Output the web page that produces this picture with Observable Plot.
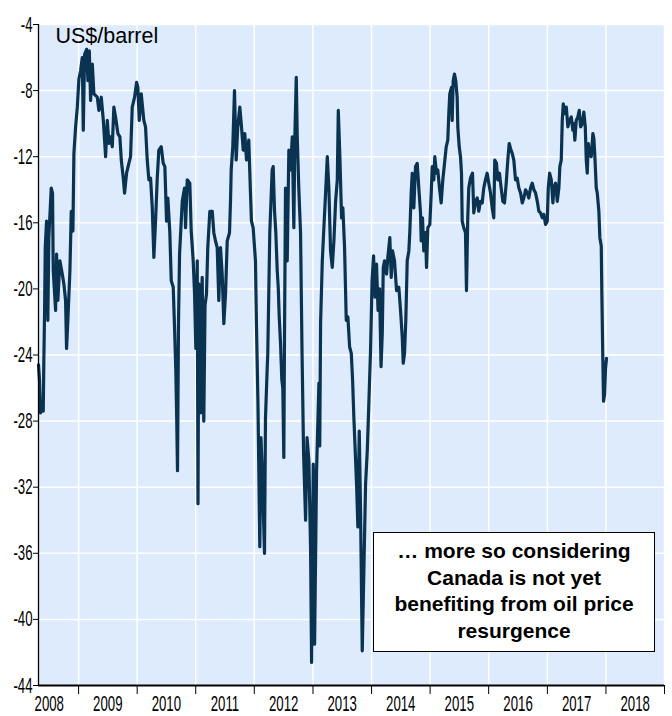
<!DOCTYPE html>
<html>
<head>
<meta charset="utf-8">
<script src="https://cdn.jsdelivr.net/npm/d3@7"></script>
<script src="https://cdn.jsdelivr.net/npm/@observablehq/plot@0.6"></script>
<style>
  body { margin: 0; background: #fff; }
  #wrap { position: relative; width: 672px; height: 716px; }
  #note {
    position: absolute; left: 373px; top: 532px; width: 282px; height: 120px;
    box-sizing: border-box; border: 1.5px solid #000; background: #fff;
    font: bold 21px "Liberation Sans", Arial, sans-serif; color: #000;
    text-align: center; line-height: 26.7px; padding-top: 5px;
  }
</style>
</head>
<body>
<div id="wrap"></div>
<script>
// [decimal year, US$/barrel]
const y2008 = [[2008.317,-24.6],[2008.334,-25.5],[2008.352,-27.5],[2008.377,-27.0],[2008.398,-27.4],[2008.408,-24.3],[2008.420,-21.5],[2008.432,-17.5],[2008.454,-15.9],[2008.476,-21.9],[2008.493,-16.9],[2008.534,-13.9],[2008.556,-14.2],[2008.568,-18.9],[2008.608,-21.3],[2008.625,-17.9],[2008.647,-20.7],[2008.681,-18.3],[2008.722,-19.1],[2008.749,-19.7],[2008.778,-20.7],[2008.795,-23.6],[2008.817,-21.9],[2008.852,-18.9],[2008.875,-15.3],[2008.903,-16.5],[2008.920,-11.8],[2008.949,-10.2],[2008.978,-9.0]];
const y2009 = [[2009.005,-7.3],[2009.034,-6.8],[2009.063,-6.0],[2009.080,-10.4],[2009.102,-5.8],[2009.137,-5.5],[2009.159,-7.4],[2009.183,-5.6],[2009.205,-8.6],[2009.234,-6.4],[2009.261,-8.2],[2009.319,-8.4],[2009.346,-9.2],[2009.387,-8.4],[2009.422,-9.8],[2009.461,-12.0],[2009.490,-9.8],[2009.517,-11.2],[2009.546,-10.8],[2009.575,-11.4],[2009.602,-9.0],[2009.631,-9.6],[2009.671,-10.6],[2009.705,-10.8],[2009.729,-12.2],[2009.763,-13.3],[2009.785,-14.2],[2009.819,-13.0],[2009.858,-12.4],[2009.887,-12.0],[2009.916,-9.0],[2009.956,-8.4],[2009.990,-7.5]];
const y2010 = [[2010.012,-7.8],[2010.036,-9.8],[2010.070,-8.2],[2010.114,-9.8],[2010.143,-10.2],[2010.172,-12.2],[2010.200,-13.4],[2010.229,-13.3],[2010.258,-15.1],[2010.285,-18.1],[2010.314,-15.9],[2010.343,-13.3],[2010.370,-11.6],[2010.411,-11.4],[2010.445,-12.4],[2010.473,-12.6],[2010.502,-15.9],[2010.524,-14.5],[2010.558,-16.6],[2010.582,-19.5],[2010.616,-19.9],[2010.638,-22.3],[2010.660,-24.9],[2010.676,-28.0],[2010.689,-31.0],[2010.706,-22.0],[2010.724,-17.9],[2010.770,-14.7],[2010.809,-13.9],[2010.826,-16.3],[2010.855,-13.4],[2010.899,-13.6],[2010.923,-16.5],[2010.957,-18.3],[2010.980,-20.3]];
const y2011 = [[2011.002,-23.6],[2011.026,-18.3],[2011.039,-33.0],[2011.053,-19.7],[2011.070,-24.0],[2011.082,-27.5],[2011.095,-21.0],[2011.111,-19.3],[2011.125,-26.0],[2011.138,-28.0],[2011.159,-21.0],[2011.184,-20.3],[2011.206,-17.5],[2011.241,-15.3],[2011.282,-15.3],[2011.309,-16.6],[2011.338,-17.1],[2011.367,-17.5],[2011.394,-20.7],[2011.423,-17.5],[2011.452,-19.1],[2011.480,-22.1],[2011.509,-20.3],[2011.538,-17.1],[2011.577,-16.6],[2011.594,-14.7],[2011.606,-12.8],[2011.633,-11.4],[2011.662,-8.0],[2011.691,-12.2],[2011.718,-10.2],[2011.753,-9.0],[2011.782,-10.2],[2011.811,-11.6],[2011.838,-10.6],[2011.867,-12.2],[2011.906,-11.0],[2011.935,-14.2],[2011.952,-15.9],[2011.981,-16.3]];
const y2012 = [[2012.020,-18.3],[2012.038,-22.3],[2012.063,-27.0],[2012.094,-35.6],[2012.114,-29.0],[2012.140,-31.5],[2012.174,-36.0],[2012.191,-27.8],[2012.220,-24.8],[2012.230,-23.9],[2012.264,-16.6],[2012.305,-12.8],[2012.322,-12.6],[2012.345,-15.3],[2012.367,-16.6],[2012.391,-18.9],[2012.408,-19.9],[2012.425,-21.7],[2012.447,-23.3],[2012.469,-25.5],[2012.486,-26.0],[2012.503,-30.2],[2012.515,-22.7],[2012.532,-13.9],[2012.561,-18.3],[2012.589,-11.6],[2012.618,-12.8],[2012.647,-10.8],[2012.674,-16.3],[2012.691,-10.8],[2012.715,-7.2],[2012.732,-10.8],[2012.758,-13.9],[2012.788,-16.6],[2012.814,-24.0],[2012.840,-30.0],[2012.874,-34.0],[2012.899,-29.0],[2012.930,-30.4],[2012.959,-35.8],[2012.976,-42.6]];
const y2013 = [[2013.005,-30.6],[2013.027,-41.5],[2013.061,-31.0],[2013.101,-25.7],[2013.115,-29.5],[2013.130,-22.0],[2013.159,-18.3],[2013.186,-16.3],[2013.215,-14.2],[2013.244,-12.0],[2013.271,-13.9],[2013.300,-17.7],[2013.329,-18.7],[2013.357,-17.1],[2013.386,-14.7],[2013.415,-13.4],[2013.432,-9.2],[2013.459,-12.0],[2013.488,-15.7],[2013.510,-15.1],[2013.539,-17.5],[2013.568,-21.9],[2013.596,-21.7],[2013.625,-23.5],[2013.654,-23.9],[2013.676,-25.5],[2013.698,-27.8],[2013.744,-31.8],[2013.766,-34.4],[2013.790,-28.6],[2013.812,-33.4],[2013.841,-41.9],[2013.869,-37.0],[2013.898,-31.8],[2013.927,-29.8],[2013.954,-26.9],[2013.983,-23.7]];
const y2014 = [[2014.009,-19.5],[2014.034,-18.0],[2014.060,-20.5],[2014.085,-18.5],[2014.111,-21.3],[2014.137,-20.0],[2014.162,-24.7],[2014.183,-22.7],[2014.200,-18.7],[2014.222,-18.3],[2014.256,-19.1],[2014.278,-18.1],[2014.312,-16.9],[2014.336,-19.3],[2014.358,-17.7],[2014.392,-18.3],[2014.427,-20.1],[2014.466,-19.9],[2014.495,-21.3],[2014.524,-22.9],[2014.541,-24.5],[2014.563,-23.9],[2014.585,-21.9],[2014.609,-18.3],[2014.637,-17.7],[2014.654,-16.5],[2014.677,-14.2],[2014.695,-13.0],[2014.722,-15.1],[2014.751,-12.6],[2014.780,-12.4],[2014.807,-13.9],[2014.836,-15.4],[2014.848,-17.1],[2014.870,-15.7],[2014.892,-17.7],[2014.922,-16.6],[2014.939,-18.7],[2014.961,-16.3],[2014.995,-16.1]];
const y2015 = [[2015.019,-14.2],[2015.036,-12.6],[2015.063,-13.4],[2015.080,-12.0],[2015.109,-13.0],[2015.131,-12.8],[2015.160,-13.9],[2015.189,-14.8],[2015.217,-13.4],[2015.246,-12.4],[2015.275,-11.4],[2015.302,-11.0],[2015.319,-9.4],[2015.336,-8.2],[2015.365,-7.8],[2015.377,-9.8],[2015.394,-7.4],[2015.416,-7.0],[2015.438,-7.4],[2015.462,-8.4],[2015.473,-10.2],[2015.497,-11.4],[2015.519,-12.0],[2015.536,-13.0],[2015.548,-15.9],[2015.575,-16.3],[2015.604,-16.6],[2015.621,-20.1],[2015.643,-15.7],[2015.660,-13.9],[2015.689,-13.3],[2015.724,-13.0],[2015.746,-15.4],[2015.775,-14.7],[2015.804,-14.5],[2015.831,-15.3],[2015.860,-14.7],[2015.889,-14.8],[2015.916,-13.9],[2015.945,-13.4],[2015.974,-13.0]];
const y2016 = [[2016.002,-13.6],[2016.031,-14.2],[2016.060,-15.1],[2016.087,-15.7],[2016.104,-12.2],[2016.133,-12.4],[2016.155,-13.4],[2016.184,-13.0],[2016.213,-13.9],[2016.241,-14.7],[2016.270,-14.8],[2016.299,-13.6],[2016.326,-12.2],[2016.350,-11.2],[2016.372,-11.5],[2016.401,-11.8],[2016.428,-12.2],[2016.457,-13.4],[2016.486,-13.3],[2016.514,-13.9],[2016.543,-14.2],[2016.572,-14.8],[2016.599,-14.5],[2016.628,-14.0],[2016.657,-14.2],[2016.684,-14.5],[2016.713,-13.9],[2016.742,-13.6],[2016.770,-14.0],[2016.799,-14.2],[2016.828,-14.7],[2016.855,-15.3],[2016.884,-15.4],[2016.913,-15.7],[2016.940,-15.5],[2016.969,-16.1],[2016.998,-15.9]];
const y2017 = [[2017.015,-13.9],[2017.038,-13.0],[2017.067,-13.4],[2017.094,-14.8],[2017.111,-13.9],[2017.140,-13.6],[2017.169,-14.7],[2017.196,-13.9],[2017.213,-12.6],[2017.237,-12.2],[2017.254,-9.8],[2017.271,-8.8],[2017.294,-9.4],[2017.323,-9.0],[2017.350,-10.2],[2017.379,-9.8],[2017.408,-9.6],[2017.435,-10.4],[2017.452,-10.0],[2017.469,-11.0],[2017.493,-9.8],[2017.520,-9.6],[2017.544,-9.2],[2017.567,-10.2],[2017.596,-10.0],[2017.623,-9.3],[2017.647,-10.2],[2017.664,-12.2],[2017.681,-13.0],[2017.698,-11.2],[2017.720,-11.8],[2017.749,-12.0],[2017.777,-10.6],[2017.794,-10.9],[2017.811,-12.0],[2017.835,-13.9],[2017.852,-14.2],[2017.879,-15.3],[2017.896,-16.9],[2017.920,-17.4],[2017.930,-20.3],[2017.947,-24.3],[2017.959,-26.8],[2017.976,-26.4],[2017.993,-24.8]];
const y2018 = [[2018.010,-24.2]];

const yTicks = [-44, -40, -36, -32, -28, -24, -20, -16, -12, -8, -4];
const yearLabels = ["2008","2009","2010","2011","2012","2013","2014","2015","2016","2017","2018"];
const unitLabel = "US$/barrel";
const noteLines = ["\u2026 more so considering", "Canada is not yet", "benefiting from oil price", "resurgence"];

const bg = "#DDEBFC";
const lineColor = "#0A3352";

function toDate(t) {
  const y = Math.floor(t);
  const a = Date.UTC(y, 0, 1), b = Date.UTC(y + 1, 0, 1);
  return new Date(a + (t - y) * (b - a));
}

const data = [...y2008, ...y2009, ...y2010, ...y2011, ...y2012, ...y2013, ...y2014, ...y2015, ...y2016, ...y2017, ...y2018]
  .map(([t, v]) => ({date: toDate(t), value: v}));

const xStart = toDate(2008.317);
const xEnd = new Date(Date.UTC(2019, 0, 1));
const boundaries = yearLabels.map(y => new Date(Date.UTC(+y + 1, 0, 1)));
const mids = yearLabels.map(y => new Date(Date.UTC(+y, 6, 2)));

const axisFont = '"Liberation Sans", Arial, sans-serif';

const plot = Plot.plot({
  width: 672, height: 716,
  marginLeft: 38, marginRight: 8, marginTop: 24, marginBottom: 31,
  style: {fontFamily: axisFont, fontSize: "22px", background: "white", overflow: "visible", color: "black"},
  x: {type: "utc", domain: [xStart, xEnd], label: null},
  y: {domain: [-44, -4], label: null},
  marks: [
    Plot.frame({fill: bg, stroke: "none"}),
    Plot.gridY(yTicks, {stroke: "white", strokeOpacity: 1, strokeWidth: 1.5}),
    Plot.gridX(boundaries, {stroke: "white", strokeOpacity: 1, strokeWidth: 1.5}),
    Plot.line(data, {x: "date", y: "value", stroke: lineColor, strokeWidth: 3.2, strokeLinejoin: "round"}),
    Plot.ruleX([xStart], {stroke: "black", strokeWidth: 1.3}),
    Plot.ruleY([-44], {stroke: "black", strokeWidth: 2}),
    Plot.axisY(yTicks, {tickSize: 5, tickPadding: 1, label: null, tickFormat: d => String(d)}),
    Plot.axisX(boundaries, {tickSize: 9, label: null, tickFormat: () => ""}),
    Plot.axisX(mids, {tickSize: 0, tickPadding: 10, label: null, tickFormat: d => String(d.getUTCFullYear())}),
    Plot.text([unitLabel], {frameAnchor: "top-left", dx: 17, dy: 3, lineAnchor: "top", textAnchor: "start", fontSize: 21.5})
  ]
});

const wrap = document.getElementById("wrap");
wrap.appendChild(plot);

plot.querySelectorAll('g[aria-label="y-axis tick label"], g[aria-label="x-axis tick label"]').forEach(g => {
  g.setAttribute("font-size", "22");
  g.style.fontSize = "22px";
  g.querySelectorAll("text").forEach(t => {
    t.style.fontSize = "22px";
    t.setAttribute("font-size", "22");
    const w = t.getComputedTextLength();
    if (w > 0) {
      t.setAttribute("textLength", (w * 0.6).toFixed(1));
      t.setAttribute("lengthAdjust", "spacingAndGlyphs");
    }
  });
});

const note = document.createElement("div");
note.id = "note";
note.innerHTML = noteLines.join("<br>");
wrap.appendChild(note);
</script>
</body>
</html>
